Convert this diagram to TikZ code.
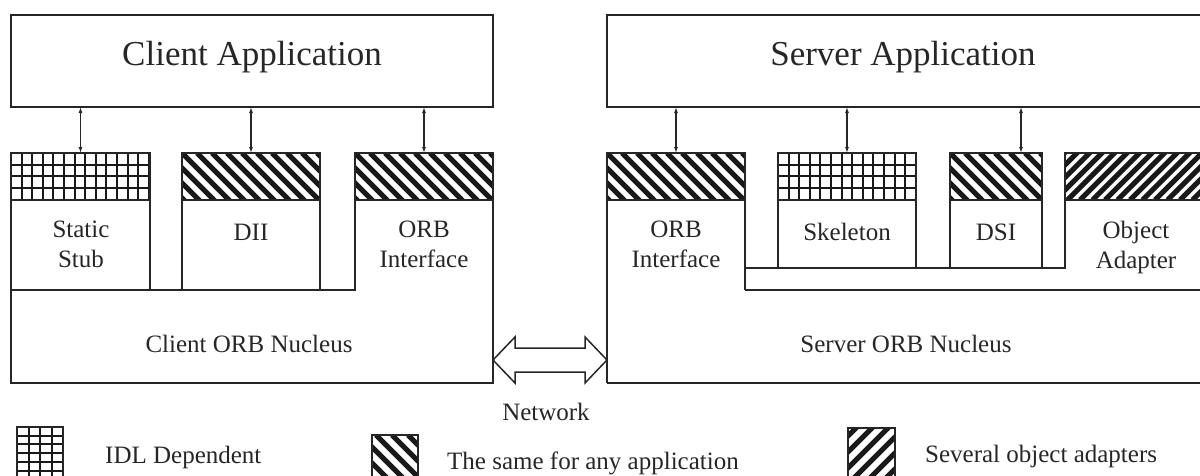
\documentclass[tikz,border=0pt]{standalone}
\usepackage{fontspec}
\setmainfont{Liberation Serif}
\usetikzlibrary{arrows.meta}
\newcommand{\BSHatch}[5]{%
  \begin{scope}
    \clip (#1,#2) rectangle (#3,#4);
    \foreach \k in {0,...,40} \draw[stripe] ({#1-60+\k*#5},#2) -- ++(60,60);
  \end{scope}}
\newcommand{\FSHatch}[5]{%
  \begin{scope}
    \clip (#1,#2) rectangle (#3,#4);
    \foreach \k in {0,...,40} \draw[stripe] ({#1-60+\k*#5},#4) -- ++(60,-60);
  \end{scope}}
\newcommand{\GridHatch}[6]{%
  \begin{scope}
    \clip (#1,#2) rectangle (#3,#4);
    \foreach \k in {1,...,30} {
      \draw[gridln] ({#1+\k*#5},#2) -- ({#1+\k*#5},#4);
      \draw[gridln] (#1,{#2+\k*#6}) -- (#3,{#2+\k*#6});
    }
  \end{scope}}
\begin{document}
\begin{tikzpicture}[x=1pt,y=-1pt,
  ln/.style={line width=1.8pt, draw=black!85},
  stripe/.style={line width=5pt, draw=black!90},
  gridln/.style={line width=2pt, draw=black!90},
  conn/.style={line width=1.1pt, draw=black!85, {Latex[length=6pt,width=4pt]}-{Latex[length=6pt,width=4pt]}},
  big/.style={font=\fontsize{35}{42}\selectfont, text=black!85, inner sep=0pt},
  lbl/.style={font=\fontsize{25}{30}\selectfont, text=black!85, align=center, inner sep=0pt},
  rbox/.style={ln, rectangle, inner sep=0pt, outer sep=0pt, anchor=north west}
]
\useasboundingbox (0,0) rectangle (1200,475);

% ---------------- Client side ----------------
\node[rbox, minimum width=482pt, minimum height=92pt] (ca) at (11,15) {};
\node[big, anchor=base] (catxt) at (252,65) {Client Application};

% Static Stub
\GridHatch{11}{153}{150}{200}{10.6}{11.7}
\node[rbox, minimum width=139pt, minimum height=137pt] (ss) at (11,153) {};
\draw[ln] (11,200) -- (150,200);
% DII
\BSHatch{182}{153}{320}{200}{15}
\node[rbox, minimum width=138pt, minimum height=137pt] (dii) at (182,153) {};
\draw[ln] (182,200) -- (320,200);
% ORB interface + client nucleus
\BSHatch{355}{153}{493}{200}{15}
\draw[ln] (11,290) -- (355,290) -- (355,153) -- (493,153) -- (493,383) -- (11,383) -- cycle;
\draw[ln] (355,200) -- (493,200);
\coordinate (corb) at (424,153);

\draw[conn] (ss.north) -- (ss.north |- ca.south);
\draw[conn] (dii.north) -- (dii.north |- ca.south);
\draw[conn] (corb) -- (corb |- ca.south);

\node[lbl] (sstxt) at (81,244.5) {Static\\Stub};
\node[lbl, anchor=base] (diitxt) at (251,240) {DII};
\node[lbl] (corbtxt) at (424,244.5) {ORB\\Interface};
\node[lbl, anchor=base] (cnuc) at (249,352) {Client ORB Nucleus};

% ---------------- Server side ----------------
\node[rbox, minimum width=600pt, minimum height=92pt] (sa) at (607,15) {};
\node[big, anchor=base] (satxt) at (903,65) {Server Application};

% ORB interface
\BSHatch{607}{153}{745}{200}{15}
\draw[ln] (607,383) -- (607,153) -- (745,153) -- (745,290);
\draw[ln] (607,200) -- (745,200);
\coordinate (sorb) at (676,153);
% Skeleton
\GridHatch{778}{153}{916}{200}{10.6}{11.7}
\node[rbox, minimum width=138pt, minimum height=115pt] (skel) at (778,153) {};
\draw[ln] (778,200) -- (916,200);
% DSI
\BSHatch{950}{153}{1042}{200}{15}
\node[rbox, minimum width=92pt, minimum height=115pt] (dsi) at (950,153) {};
\draw[ln] (950,200) -- (1042,200);
\coordinate (dsiarr) at (1021,153);
% Object adapter
\FSHatch{1065}{153}{1210}{200}{12.5}
\draw[ln] (1210,153) -- (1065,153) -- (1065,268) -- (745,268);
\draw[ln] (745,290) -- (1210,290);
\draw[ln] (1065,200) -- (1210,200);
% nucleus bottom
\draw[ln] (607,383) -- (1210,383);

\draw[conn] (sorb) -- (sorb |- sa.south);
\draw[conn] (skel.north) -- (skel.north |- sa.south);
\draw[conn] (dsiarr) -- (dsiarr |- sa.south);

\node[lbl] (sorbtxt) at (676,244.5) {ORB\\Interface};
\node[lbl, anchor=base] (skeltxt) at (847,240) {Skeleton};
\node[lbl, anchor=base] (dsitxt) at (996,240) {DSI};
\node[lbl] (oatxt) at (1136,247) {Object\\Adapter};
\node[lbl, anchor=base] (snuc) at (906,352) {Server ORB Nucleus};

% ---------------- Network ----------------
\coordinate (netL) at (493,360);
\coordinate (netR) at (607,360);
\draw[ln, line width=1.5pt] (netL) -- (515,337) -- (515,348) -- (585,348) -- (585,337) -- (netR)
  -- (585,383) -- (585,372) -- (515,372) -- (515,383) -- cycle;
\node[lbl, anchor=base] (net) at (546,420) {Network};

% ---------------- Legend ----------------
\GridHatch{17}{427}{63}{480}{11.5}{8.7}
\draw[ln, line width=1.5pt] (17,480) -- (17,427) -- (63,427) -- (63,480);
\node[lbl, anchor=base west] (lg1) at (105,463) {IDL Dependent};

\BSHatch{372}{435}{418}{480}{16}
\draw[ln, line width=1.5pt] (372,480) -- (372,435) -- (418,435) -- (418,480);
\node[lbl, anchor=base west] (lg2) at (447,469) {The same for any application};

\FSHatch{848}{428}{895}{480}{16}
\draw[ln, line width=1.5pt] (848,480) -- (848,428) -- (895,428) -- (895,480);
\node[lbl, anchor=base west] (lg3) at (925,462) {Several object adapters};
\end{tikzpicture}
\end{document}
